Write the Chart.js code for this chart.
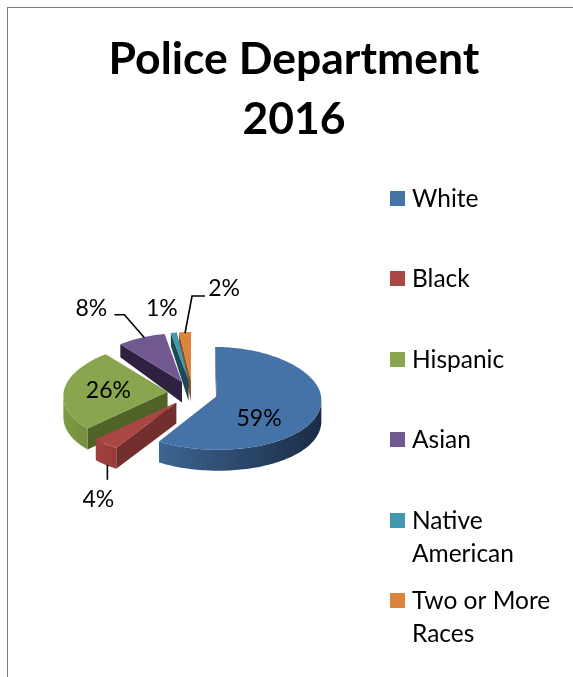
<!DOCTYPE html>
<html>
<head>
<meta charset="utf-8">
<title>Police Department 2016</title>
<script src="https://cdn.jsdelivr.net/npm/chart.js@4/dist/chart.umd.min.js"></script>
<style>
    html, body { margin: 0; padding: 0; width: 573px; height: 677px; overflow: hidden; background: #fff; }
    #frame {
        position: absolute; left: 7px; top: 7px; width: 572px; height: 670px;
        border-left: 1px solid #7a7a7a; border-top: 1px solid #7a7a7a;
    }
    canvas { display: block; }
</style>
</head>
<body>
<div id="frame"><canvas id="pie" width="572" height="669"></canvas></div>
<script>
// ── Data ─────────────────────────────────────────────────
const categories = ['White', 'Black', 'Hispanic', 'Asian', 'Native American', 'Two or More Races'];
const shares = [59, 4, 26, 8, 1, 2];
const titleLines = ['Police Department', '2016'];

// ── Styling per slice ────────────────────────────────────
const topColors = ['#4572a7', '#aa4643', '#89a54e', '#71588f', '#4198af', '#db843d'];
const wallColors = ['#1f3552', '#722f2d', '#4f6228', '#2f2240', '#1d4855', '#8a5226'];
const rimLeft = ['#3c6592', '#a23f3c', '#7f9a45', '#5c4875', '#357f92', '#b46c31'];
const rimRight = ['#1a2c44', '#7a3230', '#566b2d', '#3a2c4d', '#1d4855', '#8a5226'];
const paintOrder = [5, 4, 3, 2, 1, 0];

// Label and leader offsets from the middle of each slice's rim
const labelOffsets = [[-60, 7], [-7, 56], [44, 2], [-50, -29], [-12, -24], [39, -43]];
const leaders = {
    1: [[2, 21], [2, 36]],
    3: [[3, 0], [-17, -23], [-27, -23]],
    5: [[0, 1], [7, -36], [20, -36]]
};

// Legend rows: square centre and wrapped text
const legendRows = [
    { y: 190.5, lines: ['White'] },
    { y: 270.5, lines: ['Black'] },
    { y: 351.5, lines: ['Hispanic'] },
    { y: 431.5, lines: ['Asian'] },
    { y: 512.5, lines: ['Native', 'American'] },
    { y: 592.5, lines: ['Two or More', 'Races'] }
];

const FONT = "Lato, 'Open Sans', sans-serif";
const EXPLODE = 25;
const PIE_SHIFT = -101.5;
const BACK_TILT = 0.47;
const FRONT_TILT = 0.515;
const WIDEN = 0.0006;

// Tilted pie plane: y is squashed, x narrows toward the back
function project(area, x, y) {
    return {
        x: area.x + x * (1 + y * WIDEN),
        y: area.y + y * (y > 0 ? FRONT_TILT : BACK_TILT)
    };
}

function depthAt(y) {
    return Math.max(13, Math.min(21, 13 + (y - 336) * 0.2));
}

// Apex and rim of one exploded slice, in screen space, clockwise
function sliceOutline(arc) {
    const area = { x: arc.x + PIE_SHIFT, y: arc.y };
    const mid = (arc.startAngle + arc.endAngle) / 2;
    const ox = Math.cos(mid) * EXPLODE;
    const oy = Math.sin(mid) * EXPLODE;
    const pts = [project(area, ox, oy)];
    const steps = Math.max(4, Math.ceil((arc.endAngle - arc.startAngle) * 40));
    for (let i = 0; i <= steps; i++) {
        const a = arc.startAngle + (arc.endAngle - arc.startAngle) * i / steps;
        pts.push(project(area, ox + Math.cos(a) * arc.outerRadius, oy + Math.sin(a) * arc.outerRadius));
    }
    const rimMid = project(area, ox + Math.cos(mid) * arc.outerRadius, oy + Math.sin(mid) * arc.outerRadius);
    return { pts, rimMid };
}

// Fills the side of the solid below a run of top-face points
function fillSide(ctx, run, fill) {
    ctx.fillStyle = fill;
    ctx.beginPath();
    run.forEach((p, i) => i ? ctx.lineTo(p.x, p.y) : ctx.moveTo(p.x, p.y));
    run.slice().reverse().forEach(p => ctx.lineTo(p.x, p.y + depthAt(p.y)));
    ctx.closePath();
    ctx.fill();
}

function drawSlice(ctx, pts, index) {
    const xs = pts.map(p => p.x);
    const rim = ctx.createLinearGradient(Math.min(...xs), 0, Math.max(...xs), 0);
    rim.addColorStop(0, rimLeft[index]);
    rim.addColorStop(1, rimRight[index]);

    // Radial cuts: an edge running right to left faces the viewer
    const n = pts.length;
    if (pts[0].x - pts[1].x > 1) fillSide(ctx, [pts[0], pts[1]], wallColors[index]);
    if (pts[n - 1].x - pts[0].x > 1) fillSide(ctx, [pts[n - 1], pts[0]], wallColors[index]);

    // Curved rim, merged into runs so no seams show
    let run = [];
    for (let i = 1; i < n - 1; i++) {
        if (pts[i + 1].x < pts[i].x) {
            if (!run.length) run.push(pts[i]);
            run.push(pts[i + 1]);
        } else if (run.length) {
            fillSide(ctx, run, rim);
            run = [];
        }
    }
    if (run.length) fillSide(ctx, run, rim);

    ctx.fillStyle = topColors[index];
    ctx.beginPath();
    pts.forEach((p, i) => i ? ctx.lineTo(p.x, p.y) : ctx.moveTo(p.x, p.y));
    ctx.closePath();
    ctx.fill();
}

const tiltedPie = {
    id: 'tiltedPie',
    beforeDatasetDraw(chart) {
        const ctx = chart.ctx;
        const arcs = chart.getDatasetMeta(0).data;
        const outlines = arcs.map(sliceOutline);
        ctx.save();
        paintOrder.forEach(i => drawSlice(ctx, outlines[i].pts, i));

        // Leader lines
        ctx.strokeStyle = '#000';
        ctx.lineWidth = 1.6;
        Object.keys(leaders).forEach(i => {
            const base = outlines[i].rimMid;
            ctx.beginPath();
            leaders[i].forEach(([dx, dy], k) => {
                if (k) ctx.lineTo(base.x + dx, base.y + dy);
                else ctx.moveTo(base.x + dx, base.y + dy);
            });
            ctx.stroke();
        });

        // Percent labels
        ctx.fillStyle = '#000';
        ctx.font = '23px ' + FONT;
        ctx.textAlign = 'center';
        ctx.textBaseline = 'middle';
        shares.forEach((v, i) => {
            const base = outlines[i].rimMid;
            ctx.fillText(v + '%', base.x + labelOffsets[i][0], base.y + labelOffsets[i][1]);
        });
        ctx.restore();
        return false;
    },
    afterDraw(chart) {
        const ctx = chart.ctx;
        ctx.save();
        ctx.font = '24.5px ' + FONT;
        ctx.textAlign = 'left';
        ctx.textBaseline = 'middle';
        legendRows.forEach((row, i) => {
            ctx.fillStyle = topColors[i];
            ctx.fillRect(382, row.y - 7.5, 15, 15);
            ctx.fillStyle = '#000';
            row.lines.forEach((line, k) => ctx.fillText(line, 404, row.y + 1 + k * 33));
        });
        ctx.restore();
    }
};

new Chart(document.getElementById('pie'), {
    type: 'pie',
    data: {
        labels: categories,
        datasets: [{ data: shares, backgroundColor: topColors, borderWidth: 0 }]
    },
    options: {
        responsive: false,
        animation: false,
        events: [],
        radius: 104,
        layout: { padding: { bottom: 42 } },
        plugins: {
            legend: { display: false },
            tooltip: { enabled: false },
            title: {
                display: true,
                text: titleLines,
                color: '#000',
                font: { family: FONT, size: 44.5, weight: 'bold', lineHeight: 1.35 },
                padding: { top: 22, bottom: 0 }
            }
        }
    },
    plugins: [tiltedPie]
});
</script>
</body>
</html>
